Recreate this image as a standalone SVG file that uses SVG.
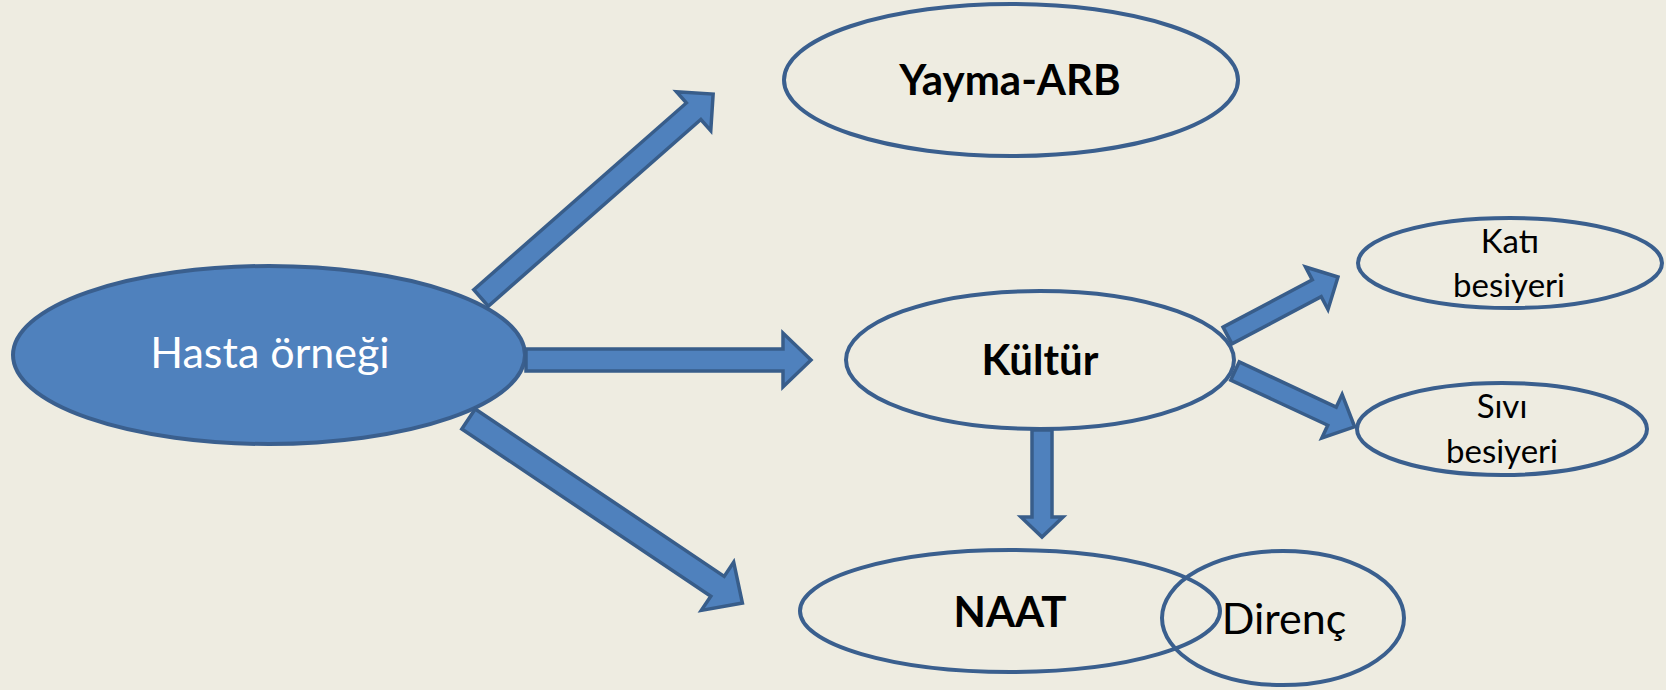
<svg xmlns="http://www.w3.org/2000/svg" width="1666" height="690" viewBox="0 0 1666 690">
<style>
.bg{fill:#EEECE1}
.node{fill:none;stroke:#3A5F8E;stroke-width:4}
.filled{fill:#4F81BD;stroke:#3A5F8E;stroke-width:4}
.arrow{fill:#4F81BD;stroke:#385D8A;stroke-width:3.5;stroke-linejoin:miter}
text{font-family:Lato,"Open Sans","Liberation Sans",sans-serif;text-anchor:middle;fill:#000}
.big{font-size:43px}
.bold{font-size:42px;font-weight:bold}
.small{font-size:33px}
.white{fill:#FFFFFF}
</style>
<rect class="bg" x="0" y="0" width="1666" height="690"/>
<g id="hasta">
<ellipse class="filled" cx="269" cy="355" rx="256" ry="89"/>
<text class="big white" x="270" y="368">Hasta örneği</text>
</g>
<g id="yayma">
<ellipse class="node" cx="1011" cy="80" rx="227" ry="76"/>
<text class="bold" x="1010" y="95">Yayma-ARB</text>
</g>
<g id="kultur">
<ellipse class="node" cx="1040" cy="360" rx="194" ry="69"/>
<text class="bold" x="1040" y="375">Kültür</text>
</g>
<g id="kati">
<ellipse class="node" cx="1510" cy="263" rx="152" ry="45"/>
<text class="small" x="1510" y="253">Katı</text>
<text class="small" x="1509" y="297">besiyeri</text>
</g>
<g id="sivi">
<ellipse class="node" cx="1502" cy="429" rx="145" ry="46"/>
<text class="small" x="1502" y="418">Sıvı</text>
<text class="small" x="1502" y="463">besiyeri</text>
</g>
<g id="naat">
<ellipse class="node" cx="1010" cy="611" rx="210" ry="61"/>
<text class="bold" x="1010" y="627">NAAT</text>
</g>
<g id="direnc">
<ellipse class="node" cx="1283" cy="618" rx="121" ry="67"/>
<text class="big" x="1284" y="634">Direnç</text>
</g>
<g id="connectors">
<polygon class="arrow" transform="translate(481,298) rotate(-41.3)" points="0,-11 283,-11 283,-26 309,0 283,26 283,11 0,11"/>
<polygon class="arrow" transform="translate(526,360)" points="0,-11 257,-11 257,-27 285,0 257,27 257,11 0,11"/>
<polygon class="arrow" transform="translate(468.5,419) rotate(33.9)" points="0,-12 300,-12 300,-29 330,0 300,29 300,12 0,12"/>
<polygon class="arrow" transform="translate(1227.5,335.5) rotate(-27.9)" points="0,-9.5 101,-9.5 101,-24 125,0 101,24 101,9.5 0,9.5"/>
<polygon class="arrow" transform="translate(1235,371) rotate(25)" points="0,-10 107,-10 107,-24 132,0 107,24 107,10 0,10"/>
<polygon class="arrow" transform="translate(1042,430) rotate(90)" points="0,-10 87,-10 87,-21 107,0 87,21 87,10 0,10"/>
</g>
</svg>
